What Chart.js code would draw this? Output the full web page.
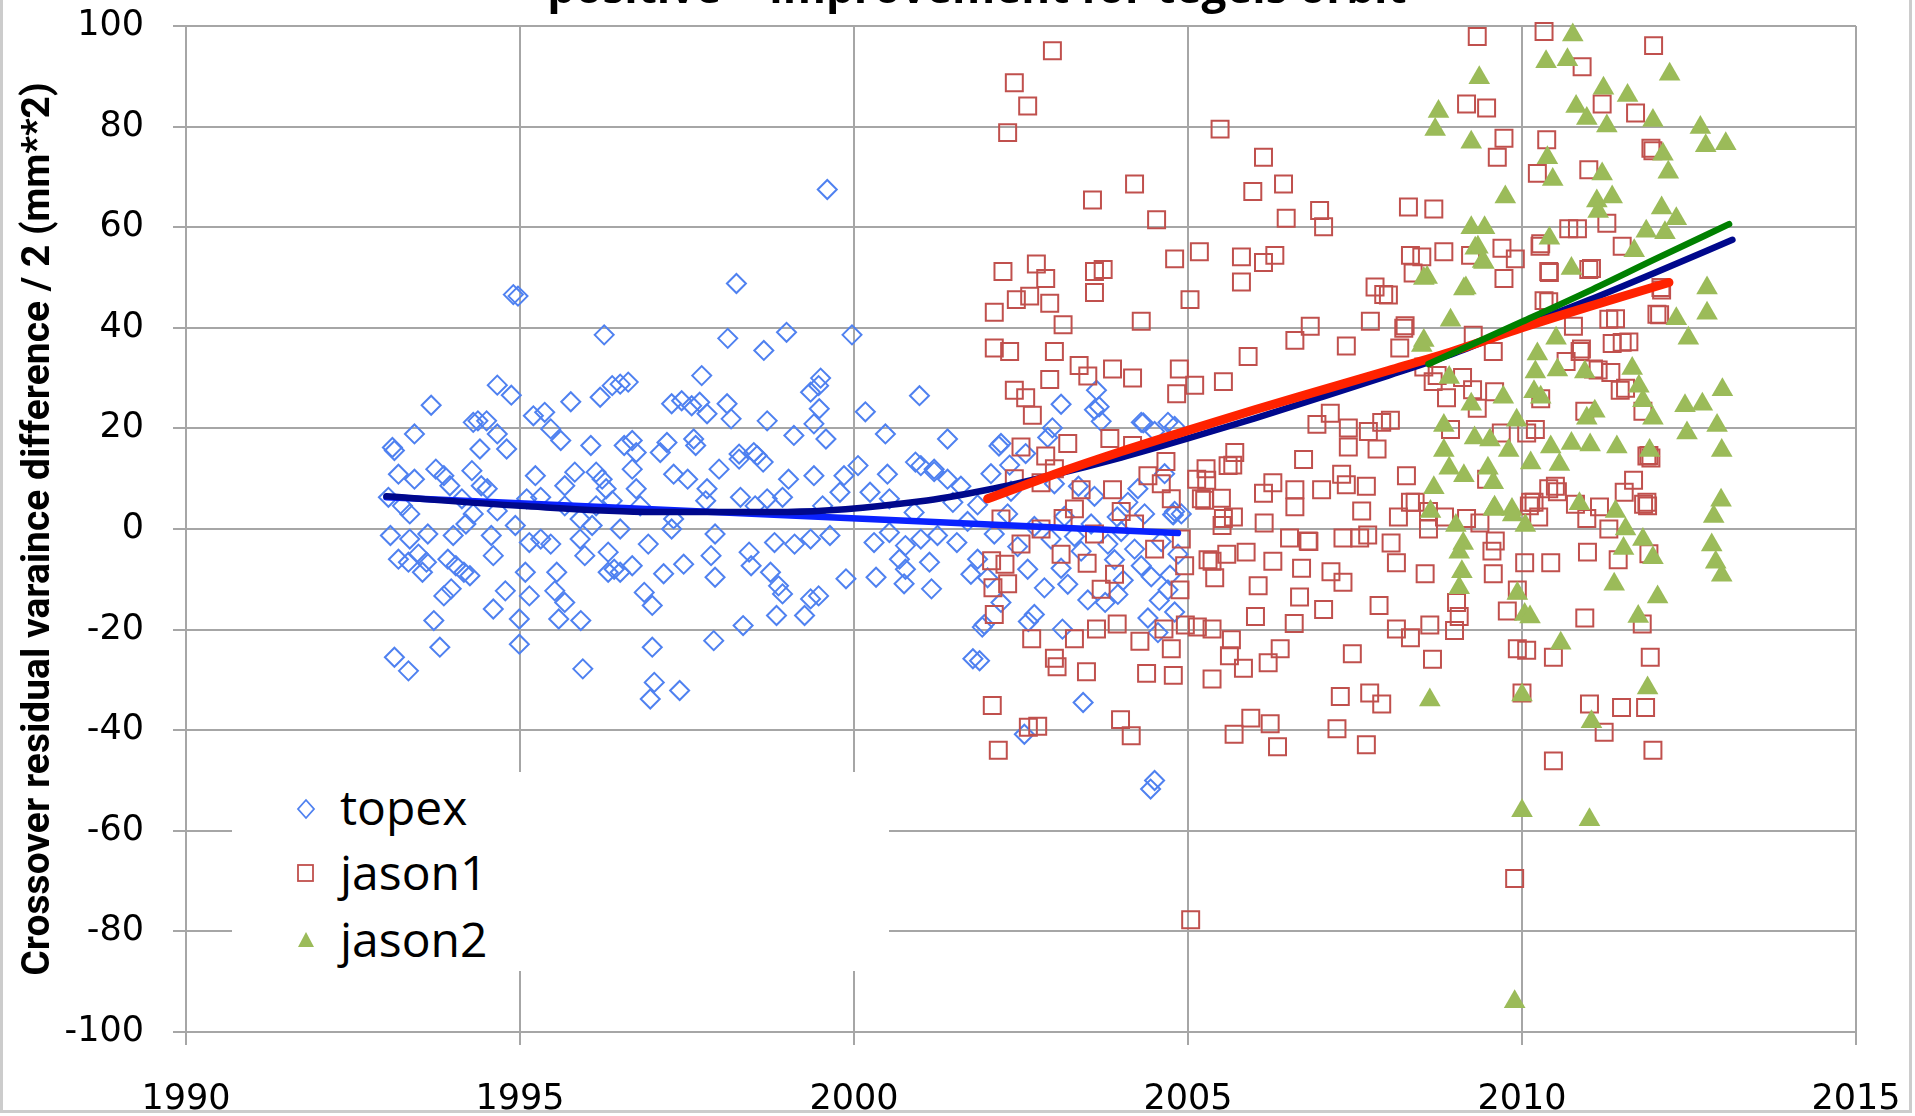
<!DOCTYPE html>
<html>
<head>
<meta charset="utf-8">
<script src="https://cdn.jsdelivr.net/npm/chart.js@4.4.1/dist/chart.umd.min.js"></script>
<style>
  html, body { margin: 0; padding: 0; background: #fff; overflow: hidden; width: 1915px; height: 1116px; }
  #wrap { position: absolute; left: 0; top: -36px; width: 1915px; height: 1192px; }
  #frame { position: absolute; left: 0; top: -10px; width: 1912px; height: 1123px; box-sizing: border-box;
           border: 3px solid #cccccc; pointer-events: none; }
  #title { position: absolute; left: 0; top: -36px; width: 1954px; text-align: center;
           font: bold 44px 'Open Sans', sans-serif; line-height: 44px; color: #000; white-space: nowrap; }
  #legend { position: absolute; left: 232px; top: 772px; width: 657px; height: 199px; background: #fff; }
  .item { position: absolute; left: 108px; font: 48px 'Open Sans', sans-serif; line-height: 48px; color: #000; }
  .mark { position: absolute; left: 62px; }
</style>
</head>
<body>
<div id="wrap"><canvas id="mainChart"></canvas></div>
<div id="title">positive = improvement for tegels orbit</div>
<div id="legend">
  <svg class="mark" style="top:25px" width="24" height="24"><polygon points="12,3 20,12 12,21 4,12" fill="none" stroke="#4f81f0" stroke-width="1.8"/></svg>
  <div class="item" style="top:11px">topex</div>
  <svg class="mark" style="top:90px" width="24" height="24"><rect x="4" y="3" width="15" height="16" fill="none" stroke="#c0504d" stroke-width="1.8"/></svg>
  <div class="item" style="top:76px">jason1</div>
  <svg class="mark" style="top:157px" width="24" height="24"><polygon points="12,3 20,18 4,18" fill="#9bbb59"/></svg>
  <div class="item" style="top:143px">jason2</div>
</div>
<div id="frame"></div>
<script>
// [year, value]
const topex = [
  [1996.26,38.6],[1998.11,37.9],[1998.65,35.5],[1998.99,39.1],[1999.97,38.6],[1997.72,30.5],[1999.5,30.0],[1999.47,28.5],
  [1999.35,27.2],[1999.48,23.9],[1999.4,20.9],[1999.58,17.9],[1999.1,18.6],[2000.17,23.3],[2000.47,18.9],[2000.98,26.5],
  [2001.4,17.9],[1994.66,28.6],[1994.87,26.6],[1993.67,24.6],[1994.3,21.2],[1994.37,21.5],[1994.5,21.5],[1994.66,18.9],
  [1993.42,18.9],[1993.09,16.2],[1993.12,15.6],[1994.4,15.9],[1994.8,15.9],[1995.2,22.5],[1995.37,23.2],[1995.46,19.9],
  [1995.61,17.6],[1995.76,25.3],[1996.2,26.2],[1996.38,28.5],[1996.5,28.8],[1996.62,29.2],[1996.06,16.6],[1996.56,16.6],
  [1996.68,17.6],[1996.74,15.2],[1997.1,15.2],[1997.2,17.2],[1997.27,24.9],[1997.42,25.5],[1997.57,24.5],[1997.69,25.2],
  [1997.8,22.9],[1998.1,24.9],[1998.16,21.9],[1997.6,17.9],[1997.63,16.6],[1998.7,21.5],[1998.28,14.9],[1998.5,15.2],
  [1998.64,13.3],[1993.18,10.9],[1993.42,9.9],[1993.74,11.9],[1993.86,10.6],[1993.95,8.6],[1994.28,11.6],[1994.42,8.6],
  [1994.51,8.0],[1995.23,10.6],[1995.67,8.6],[1995.82,11.3],[1996.14,11.3],[1996.23,9.9],[1996.29,8.0],[1996.74,8.0],
  [1996.68,11.9],[1997.3,10.9],[1997.51,9.9],[1997.8,8.0],[1997.98,11.9],[1998.28,13.9],[1998.55,14.6],[1999.02,9.9],
  [1999.4,10.6],[1999.85,10.6],[2000.06,12.6],[2000.5,10.9],[2000.92,13.3],[2001.2,11.9],[2001.4,9.9],
  [1993.03,6.3],[1993.24,4.6],[1993.35,3.0],[1994.13,6.0],[1994.3,3.0],[1994.66,3.6],[1995.1,6.0],[1995.31,6.3],
  [1995.67,4.6],[1995.9,2.0],[1996.14,4.6],[1996.38,5.6],[1996.8,4.6],[1997.3,2.0],[1997.78,5.6],[1998.3,6.3],
  [1998.52,4.6],[1998.7,6.0],[1998.93,6.3],[1999.53,4.6],[1999.79,7.3],[2000.24,7.3],[2000.53,6.0],[2000.9,3.3],
  [2001.48,5.3],[1993.06,-1.3],[1993.35,-2.0],[1993.62,-1.0],[1994.0,-1.3],[1994.19,1.0],[1994.57,-1.3],[1994.93,0.7],
  [1995.14,-2.7],[1995.31,-2.0],[1995.46,-3.0],[1995.9,-2.0],[1996.08,0.7],[1996.32,-4.6],[1996.5,0.0],[1996.92,-3.0],
  [1997.27,0.0],[1997.92,-1.0],[1998.43,-4.6],[1998.81,-2.7],[1999.11,-3.0],[1999.35,-2.0],[1999.64,-1.3],[2000.3,-2.7],
  [2000.53,-0.7],[2000.77,-3.3],[2001.0,-2.0],[2001.25,-1.3],[2001.54,-2.7],
  [1993.18,-6.0],[1993.33,-6.6],[1993.48,-5.0],[1993.6,-6.6],[1993.54,-8.6],[1993.92,-6.0],[1994.04,-7.3],[1994.16,-8.6],
  [1994.25,-9.3],[1993.97,-11.9],[1993.86,-13.3],[1994.6,-5.3],[1994.78,-12.3],[1994.6,-15.9],[1995.08,-8.6],[1995.14,-13.3],
  [1995.55,-8.6],[1995.52,-12.3],[1995.67,-14.6],[1995.97,-5.3],[1996.32,-8.6],[1996.41,-8.0],[1996.5,-8.6],[1996.68,-7.3],
  [1996.86,-12.6],[1996.98,-15.2],[1997.15,-8.9],[1997.45,-7.0],[1997.86,-5.3],[1997.92,-9.6],[1998.46,-7.3],[1998.75,-8.6],
  [1998.87,-11.3],[1998.93,-12.9],[1999.35,-13.9],[1999.47,-13.3],[1999.26,-17.2],[1999.88,-9.9],[2000.33,-9.6],[2000.68,-6.0],
  [2000.77,-8.0],[2001.13,-6.6],[2000.75,-10.9],[2001.16,-11.9],
  [1993.71,-18.2],[1993.8,-23.5],[1993.12,-25.5],[1993.33,-28.2],[1994.99,-17.9],[1994.99,-22.9],[1995.58,-17.9],[1995.91,-18.2],
  [1995.94,-27.8],[1996.98,-23.5],[1997.01,-30.5],[1996.95,-33.8],[1997.39,-32.1],[1997.9,-22.2],[1998.34,-19.2],[1998.84,-17.2],
  [2001.78,-25.8],[1999.6,67.5],[1994.9,46.6],[1994.97,46.3],[1998.24,48.8],
  [2001.0,12.6],[2001.2,11.4],[2001.85,4.8],[2002.17,16.5],[2002.57,15.0],[2002.9,18.2],[2003.1,24.8],[2003.36,8.5],
  [2003.67,24.3],[2003.7,21.4],[2003.94,2.4],[2004.1,5.3],[2004.33,21.1],[2004.5,19.4],[2004.8,20.4],[2004.77,2.9],
  [2001.85,-6],[2002.0,-9.7],[2002.2,-14.6],[2001.95,-19],[2002.7,-17],[2002.85,-11.7],[2003.1,-7.8],[2003.4,-4.4],
  [2003.5,-14.1],[2003.76,-14.6],[2003.9,-6.1],[2004.03,-10.2],[2004.3,-7.3],[2004.4,-17.7],[2004.55,-20.6],[2004.7,-12.1],
  [2004.8,-16.5],[2004.73,-9.2],[2004.5,-50],[2004.44,-51.7],[2003.43,-34.5],[2002.55,-40.8],
  [2001.88,-26.2],[2003.12,-19.9],[2001.92,-19.5],[2002.61,-18.4],[2004.57,-14.2],[2004.78,2.8],
  [2001.7,1.5],[2002.1,-1],[2002.3,3],[2002.45,-3.5],[2002.7,0.5],[2002.95,-2],[2003.15,2.5],[2003.3,-1.5],
  [2003.55,1],[2003.8,-3],[2004.0,-0.5],[2004.2,-4],[2004.35,3],[2004.6,-2.5],[2004.85,-5],[2002.35,7.5],
  [2003.0,9],[2003.6,6.5],[2004.25,8],[2004.65,11],[2001.6,8.5],[2002.05,11],[2001.75,-9],[2002.6,-8],
  [2003.2,-11],[2003.95,-13],[2004.45,-9.5],[2004.9,3],
  [2003.63,27.6],[2003.6,23.7],[2002.97,20.1],[2002.2,17],[2002.33,12.7],[2004.3,21.2],[2004.7,21.2],[2004.8,3.5]
];

const jason1 = [
  [2002.97,95.1],[2002.4,88.7],[2002.6,84.1],[2002.3,78.8],[2005.48,79.5],[2009.33,97.9],[2010.33,98.9],[2010.9,91.9],
  [2006.13,73.9],[2004.2,68.6],[2003.57,65.4],[2005.97,67.1],[2006.43,68.6],[2004.53,61.5],[2006.47,61.8],[2006.97,63.3],
  [2007.03,60.1],[2008.3,64],[2008.68,63.6],[2009.17,84.5],[2009.47,83.7],[2009.73,77.7],[2009.63,73.9],[2010.37,77.4],
  [2010.23,70.7],[2011.2,84.5],[2011.7,82.7],[2011.0,71.4],[2011.27,60.8],[2011.97,96.1],
  [2002.23,51.2],[2002.73,52.7],[2002.87,49.8],[2003.6,51.2],[2003.73,51.6],[2002.1,43.1],[2002.43,45.6],[2002.63,46.3],
  [2002.93,44.9],[2003.13,40.6],[2003.6,47],[2004.8,53.7],[2005.17,55.1],[2005.03,45.6],[2004.3,41.3],[2005.8,54.1],
  [2006.13,53],[2006.3,54.4],[2005.8,49.1],
  [2002.1,36],[2002.33,35.3],[2003.0,35.3],[2003.37,32.5],[2003.87,31.8],[2004.17,30.0],[2003.5,30.4],[2002.93,29.7],
  [2002.4,27.6],[2002.57,26.1],[2002.67,22.6],[2004.87,31.8],[2004.83,26.9],[2005.1,28.6],[2005.53,29.3],[2005.9,34.3],
  [2006.6,37.5],[2006.83,40.3],[2007.37,36.4],[2007.8,48.1],[2007.93,46.6],[2007.73,41.3],[2008.17,36.0],[2008.23,39.9],
  [2008.33,54.4],[2008.5,54.1],[2008.83,55.1],[2009.23,54.4],[2009.7,55.8],[2009.9,53.7],[2008.37,50.9],[2009.73,49.8],
  [2009.27,38.5],[2009.57,35.3],[2008.53,32.2],[2010.4,51.2],[2010.7,59.7],[2010.83,59.7],[2010.27,56.2],[2011.0,51.6],
  [2011.5,56.2],[2010.4,45.2],[2010.77,40.3],[2011.3,41.7],[2011.5,37.1],[2010.87,35.3],[2011.07,31.8],
  [2002.5,16.3],[2002.87,14.5],[2003.2,17],[2003.83,18.0],[2004.17,16.6],[2002.8,9.2],[2003.4,7.8],[2003.87,7.8],
  [2004.4,10.6],[2004.67,13.4],[2004.0,3.5],[2003.13,2.1],[2005.27,12.0],[2005.13,9.9],[2005.7,15.2],[2005.67,12.7],
  [2005.2,6.0],[2005.53,2.1],[2006.27,9.2],[2006.6,7.8],[2006.13,7.1],[2006.73,13.8],[2006.93,20.8],[2007.13,23.0],
  [2007.4,20.1],[2007.4,16.3],[2007.37,8.8],[2007.67,8.5],[2007.7,19.4],[2007.9,21.2],[2008.03,21.6],[2007.83,15.9],
  [2008.27,10.6],[2008.33,5.3],[2008.6,3.5],[2008.67,29.3],[2008.87,26.1],[2008.93,19.8],[2009.33,24.0],[2009.47,9.9],
  [2010.07,19.1],[2010.2,19.8],[2010.13,5.3],[2010.5,8.5],[2010.97,2.1],[2011.33,31.1],[2011.47,27.6],[2011.87,14.5],
  [2011.87,5.3],
  [2002.26,-7],[2002.08,-11.7],[2002.3,-10.9],[2002.06,-6.3],[2002.1,-17],[2002.07,-35.1],[2002.16,-44.0],[2002.61,-39.4],
  [2002.75,-39.2],[2002.66,-21.8],[2003.0,-25.7],[2003.04,-27.4],[2003.3,-21.8],[2003.48,-28.4],[2003.63,-19.9],[2003.94,-18.9],
  [2003.49,-6.8],[2003.99,-37.9],[2004.15,-41.1],[2004.38,-28.7],[2004.28,-22.3],[2004.75,-23.8],[2004.78,-29.1],[2004.64,-19.9],
  [2004.96,-19.1],[2004.88,-12.1],[2004.95,-7.3],[2005.04,-77.7],[2005.3,-6.1],[2005.4,-9.7],[2005.14,-19.5],[2005.36,-19.9],
  [2005.36,-29.8],[2005.62,-25.2],[2005.65,-22],[2005.69,-40.8],[2005.94,-37.6],[2006.23,-38.7],[2006.34,-43.3],[2006.01,-17.4],
  [2006.05,-11.3],[2006.27,-6.4],[2005.87,-4.6],[2005.58,-5],[2005.36,-6.4],[2005.83,-27.7],[2006.2,-26.6],[2006.38,-23.8],
  [2006.59,-18.8],[2006.67,-13.5],[2006.7,-7.8],[2006.8,-2.4],[2007.03,-16],[2007.14,-8.5],[2007.32,-10.6],[2007.28,-33.3],
  [2007.72,-32.6],[2007.9,-34.8],[2007.23,-39.7],[2007.67,-42.9],[2007.46,-24.8],[2007.86,-15.2],[2008.12,-19.9],[2008.33,-21.6],
  [2008.04,-2.8],[2008.12,-6.7],[2008.55,-8.9],[2008.62,-19.1],[2008.66,-25.9],[2008.99,-20.2],[2009.06,-17.4],[2009.02,-14.6],
  [2009.57,-8.9],[2009.55,-4.4],[2009.78,-16.3],[2009.93,-12.1],[2010.0,-32.6],[2009.93,-23.8],[2010.07,-24.1],[2010.47,-25.5],
  [2010.47,-46.1],[2009.89,-69.5],[2010.04,-6.7],[2010.43,-6.7],[2010.98,-4.6],[2010.94,-17.7],[2011.01,-34.8],[2011.23,-40.4],
  [2011.49,-35.5],[2011.85,-35.5],[2011.92,-25.5],[2011.96,-44.0],[2011.8,-18.9],[2011.9,-4.9],[2011.44,-6.1],[2006.52,-1.8],
  [2006.81,-2.5],[2007.32,-1.8],[2007.57,-1.8],
  [2005.25,5.7],[2005.51,0.7],[2009.17,2.1],[2010.11,4.6],[2011.88,4.6],[2005.28,9.7],[2005.5,6.1],[2005.6,12.6],
  [2005.68,2.4],[2006.14,1.2],[2006.6,4.4],[2007.0,7.8],[2007.3,10.9],[2007.6,3.6],[2007.69,-1.2],[2008.15,2.4],
  [2008.4,5.3],[2008.6,0],[2008.84,2.4],[2009.37,1.2],[2009.6,-2.4],[2010.25,2.4],[2010.4,8],[2010.8,4.9],
  [2011.16,4.4],[2011.53,7.3],[2011.82,4.9],[2011.9,14.6],[2011.67,9.7],[2011.3,0],
  [2002.2,2],[2002.5,-3],[2002.8,0],[2003.1,-5],[2003.3,4],[2003.6,-1],[2003.9,-9],[2004.2,1],
  [2004.5,-4],[2004.75,6],[2004.9,-2],[2003.0,12],[2002.4,10],[2004.6,9],[2003.7,-12],
  [2011.93,75.7],[2012.02,42.7],[2012.08,48],[2011.93,14.1],
  [2011.96,75.2],[2010.28,56.7],[2010.41,51],[2011.04,51.8],[2010.33,45.4],[2012.09,47.5],[2012.06,42.6],[2011.4,41.8],
  [2011.6,37.2],[2011.35,36.9],[2010.89,35.8],[2011.14,31.6],[2010.66,33.3],[2010.28,25.9],[2010.94,23.4],[2011.55,28.0],
  [2011.81,23.4],[2010.53,7.4],[2010.18,5.3],[2009.69,19.1],[2009.59,27.3],[2009.26,27.7],[2009.11,30.1],[2008.73,30.5],
  [2008.25,40.4],[2008.0,46.5]
];

const jason2 = [
  [2010.76,98.2],[2010.36,92.9],[2010.68,93.3],[2012.21,90.4],[2009.36,89.7],[2011.22,87.6],[2011.58,86.2],[2010.81,84.0],
  [2010.97,81.6],[2011.27,80.1],[2011.96,81.2],[2008.75,83.0],[2008.7,79.4],[2009.24,76.9],[2012.67,79.8],[2012.75,76.2],
  [2013.05,76.6],[2012.11,74.5],[2012.19,70.9],[2010.38,73.8],[2010.46,69.5],[2011.2,70.6],[2009.75,66.0],[2011.12,65.2],
  [2011.35,66.0],[2011.14,63.1],[2012.09,63.8],[2012.31,61.7],[2009.24,59.9],[2009.44,59.9],[2011.86,59.2],[2012.14,58.9],
  [2010.41,57.8],[2009.34,56.0],[2009.41,53.2],[2010.74,51.8],[2011.68,55.3],[2008.58,50.0],[2009.16,47.9],[2012.77,47.9],
  [2012.77,42.9],[2012.31,41.8],[2012.49,37.9],[2008.93,41.5],[2008.5,36.5],[2010.51,37.9],[2010.23,34.8],[2010.2,31.2],
  [2010.53,31.6],[2010.94,31.2],[2008.91,30.1],[2011.65,31.9],[2011.75,28.4],[2011.81,25.5],[2013.0,27.7],[2012.44,24.5],
  [2012.7,24.8],[2010.18,27.3],[2010.28,26.2],[2009.72,26.2],[2009.92,21.6],[2009.24,24.8],[2008.83,20.6],[2010.97,22.0],
  [2011.09,23.4],[2011.96,22.0],[2012.92,20.6],[2012.47,19.1],[2009.29,18.1],[2009.52,17.7],[2009.8,15.6],[2010.43,16.3],
  [2010.74,17.0],[2011.02,16.7],[2011.42,16.3],[2011.91,15.6],[2012.99,15.6],[2008.83,15.6],[2008.91,12.1],[2009.13,10.6],
  [2009.49,12.1],[2008.68,8.2],[2009.57,9.2],[2010.13,13.1],[2010.56,12.8],[2008.63,3.5],[2009.01,0.7],[2009.59,4.3],
  [2009.85,3.9],[2010.86,5.0],[2011.4,3.5],[2012.98,5.7],[2012.87,2.5],[2010.05,0.7],[2011.55,0],
  [2008.62,-34],[2010.0,-33],[2010.58,-22.7],[2010.0,-56],[2011.01,-57.8],[2009.89,-94],[2011.04,-38.3],[2011.88,-31.6],
  [2011.74,-17.4],[2012.03,-13.5],[2011.38,-11],[2011.52,-3.9],[2011.81,-2.1],[2011.96,-5.7],[2009.06,-4.6],[2009.1,-8.5],
  [2009.06,-11.7],[2009.86,2.8],[2009.57,3.9],[2009.93,-12.8],[2010.04,-17],[2012.84,-3.2],[2012.9,-6.6],[2012.99,-9.2],
  [2009.12,-2.9],[2010.12,-17.5],[2009.3,55.8],[2009.43,53],[2008.53,49.8],[2009.13,47.7],[2008.53,37.5]
];

// trend lines
const topexTrend = [[1993.0,6.3],[2004.85,-0.8]];
const allTrend = [[1993.0,6.5],[1995,4.6],[1997,3.4],[1999,3.4],[2001,5.5],[2002,7.8],[2003,10.8],[2004,14.2],
  [2005,18.0],[2006,22.0],[2007,26.2],[2008,30.5],[2009,35.0],[2010,40.3],[2011,45.5],[2012,51.0],[2013.15,57.5]];
const jason1Trend = [[2002.0,6.0],[2003,10.9],[2004,15.4],[2005,19.6],[2006,23.7],[2007,27.6],[2008,31.5],
  [2009,35.5],[2010,40.0],[2011,44.2],[2012.2,49.0]];
const jason2Trend = [[2008.6,32.8],[2010,41.2],[2011,47.3],[2012,53.7],[2013.1,60.6]];

const toXY = pts => pts.map(p => ({x: p[0], y: p[1]}));

function lineSet(pts, color, width, order) {
    return {
        data: toXY(pts), showLine: true, borderColor: color, borderWidth: width, borderCapStyle: 'round',
        pointRadius: 0, cubicInterpolationMode: 'monotone', order: order, clip: false
    };
}

const gridColor = '#a6a6a6';
const tickFont = {family: "'DejaVu Sans', sans-serif", size: 35};

new Chart(document.getElementById("mainChart"), {
    type: 'scatter',
    data: {
        datasets: [
            lineSet(jason2Trend, '#008000', 6.5, 1),
            lineSet(jason1Trend, '#ff2200', 9, 2),
            lineSet(allTrend, '#00088c', 6.5, 3),
            lineSet(topexTrend, '#0a22ff', 6.5, 4),
            {
                label: 'jason2', data: toXY(jason2), pointStyle: 'triangle', pointRadius: 12.5,
                backgroundColor: '#9bbb59', borderColor: '#9bbb59', borderWidth: 0, order: 11, clip: false
            },
            {
                label: 'jason1', data: toXY(jason1), pointStyle: 'rect', pointRadius: 12,
                backgroundColor: 'rgba(0,0,0,0)', borderColor: '#c0504d', borderWidth: 2, order: 12, clip: false
            },
            {
                label: 'topex', data: toXY(topex), pointStyle: 'rectRot', pointRadius: 9.5,
                backgroundColor: 'rgba(0,0,0,0)', borderColor: '#4f81f0', borderWidth: 2, order: 13, clip: false
            }
        ]
    },
    options: {
        responsive: true,
        maintainAspectRatio: false,
        animation: false,
        events: [],
        layout: { padding: {left: 0, right: 59, top: 62, bottom: 1} },
        plugins: {
            legend: { display: false },
            tooltip: { enabled: false }
        },
        scales: {
            x: {
                type: 'linear', min: 1990, max: 2015,
                ticks: { stepSize: 5, color: '#000', font: tickFont, padding: 34, maxRotation: 0,
                         callback: v => String(v) },
                grid: { color: gridColor, lineWidth: 2, tickLength: 13 },
                border: { color: gridColor, width: 2 },
                // the end labels may hang past the plot, as in the original
                afterFit: function(scale) { scale.paddingLeft = 0; scale.paddingRight = 0; }
            },
            y: {
                type: 'linear', min: -100, max: 100,
                ticks: { stepSize: 20, color: '#000', font: tickFont, padding: 29 },
                grid: { color: gridColor, lineWidth: 2, tickLength: 13 },
                border: { color: gridColor, width: 2 },
                title: {
                    display: true,
                    text: 'Crossover residual varaince difference / 2 (mm**2)',
                    color: '#000',
                    font: {family: "'Liberation Sans Narrow', 'Roboto', sans-serif", size: 39, weight: 'bold'},
                    padding: {top: 16, bottom: 0}
                },
                afterFit: function(scale) { scale.width = 186; }
            }
        }
    }
});
</script>
</body>
</html>
